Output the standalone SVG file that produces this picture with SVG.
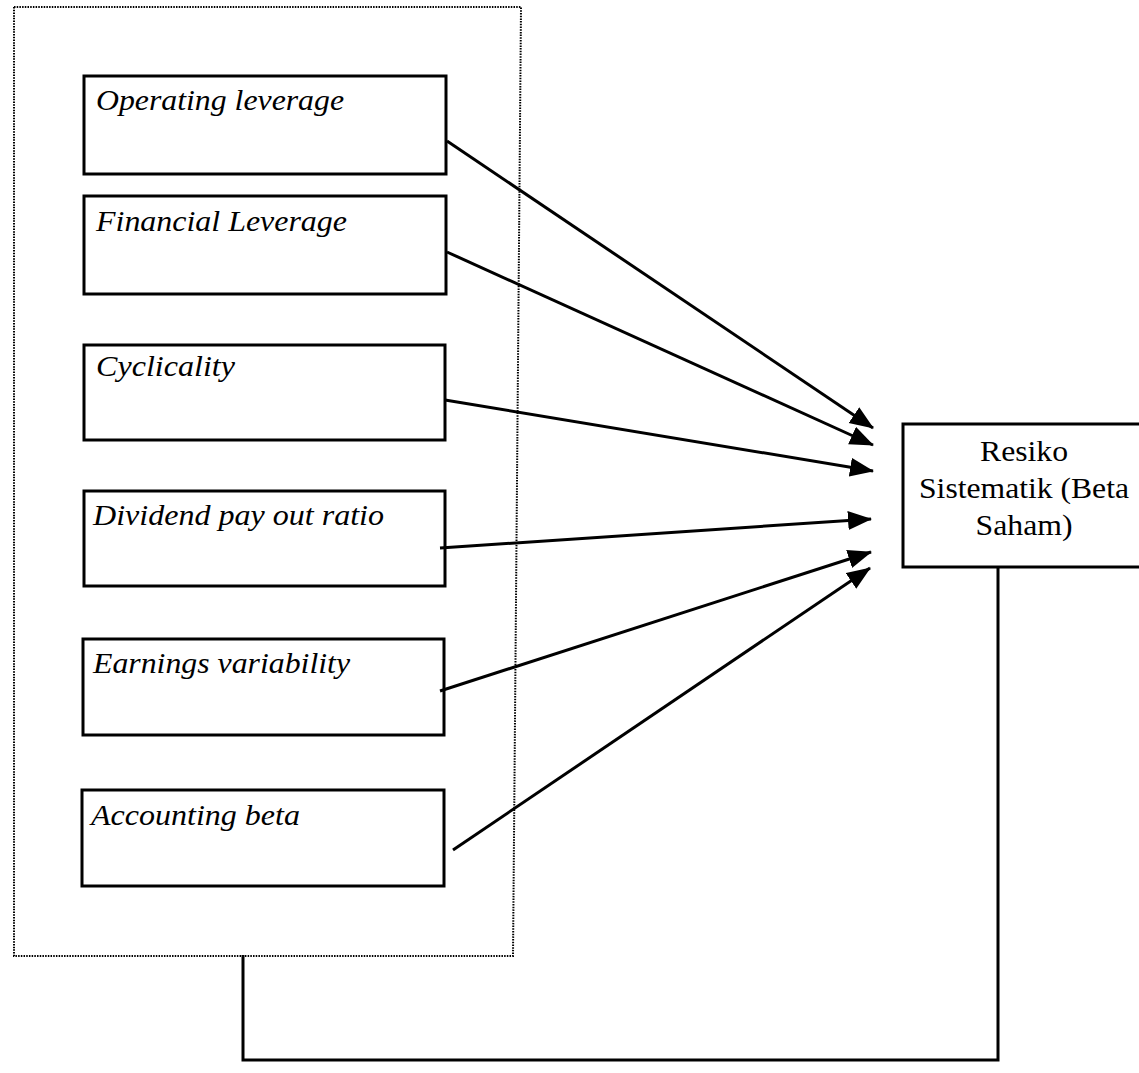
<svg xmlns="http://www.w3.org/2000/svg" width="1139" height="1073" viewBox="0 0 1139 1073">
<style>
.box{fill:#fff;stroke:#000;stroke-width:3}
.lbl{font-family:"Liberation Serif","Times New Roman",serif;font-style:italic;font-size:30px;fill:#000}
.rlbl{font-family:"Liberation Serif","Times New Roman",serif;font-size:30px;fill:#000;text-anchor:middle}
.arr{stroke:#000;stroke-width:3;fill:none;marker-end:url(#ah)}
.conn{stroke:#000;stroke-width:3;fill:none}
.dash{stroke:#000;stroke-width:2;fill:none;stroke-dasharray:1.5 1.2}
</style>
<defs>
<marker id="ah" markerUnits="userSpaceOnUse" markerWidth="26" markerHeight="20" refX="23" refY="9.5" orient="auto">
<path d="M0,0 L24,9.5 L0,19 Z" fill="#000"/>
</marker>
</defs>
<rect width="1139" height="1073" fill="#fff"/>
<g id="group-frame">
<path class="dash" d="M14,7 L521,7 L513,956 L14,956 Z"/>
</g>
<g id="node-operating">
<rect class="box" x="84" y="76" width="362" height="98"/>
<text class="lbl" x="96" y="110" textLength="248" lengthAdjust="spacingAndGlyphs">Operating leverage</text>
</g>
<g id="node-financial">
<rect class="box" x="84" y="196" width="362" height="98"/>
<text class="lbl" x="96" y="231" textLength="251" lengthAdjust="spacingAndGlyphs">Financial Leverage</text>
</g>
<g id="node-cyclicality">
<rect class="box" x="84" y="345" width="361" height="95"/>
<text class="lbl" x="96" y="376" textLength="139" lengthAdjust="spacingAndGlyphs">Cyclicality</text>
</g>
<g id="node-dividend">
<rect class="box" x="84" y="491" width="361" height="95"/>
<text class="lbl" x="93" y="525" textLength="291" lengthAdjust="spacingAndGlyphs">Dividend pay out ratio</text>
</g>
<g id="node-earnings">
<rect class="box" x="83" y="639" width="361" height="96"/>
<text class="lbl" x="93" y="673" textLength="257" lengthAdjust="spacingAndGlyphs">Earnings variability</text>
</g>
<g id="node-accounting">
<rect class="box" x="82" y="790" width="362" height="96"/>
<text class="lbl" x="91" y="825" textLength="209" lengthAdjust="spacingAndGlyphs">Accounting beta</text>
</g>
<g id="node-resiko">
<rect class="box" x="903" y="424" width="250" height="143"/>
<text class="rlbl" x="1024" y="461" textLength="88" lengthAdjust="spacingAndGlyphs">Resiko</text>
<text class="rlbl" x="1024" y="498" textLength="210" lengthAdjust="spacingAndGlyphs">Sistematik (Beta</text>
<text class="rlbl" x="1024" y="535" textLength="97" lengthAdjust="spacingAndGlyphs">Saham)</text>
</g>
<g id="connectors">
<line class="arr" x1="447" y1="141" x2="873" y2="428"/>
<line class="arr" x1="447" y1="252" x2="873" y2="445"/>
<line class="arr" x1="445" y1="400" x2="873" y2="471"/>
<line class="arr" x1="440" y1="548" x2="871" y2="519"/>
<line class="arr" x1="440" y1="691" x2="871" y2="552"/>
<line class="arr" x1="453" y1="850" x2="870" y2="568"/>
<path class="conn" d="M998,567 L998,1060 L243,1060 L243,955"/>
</g>
</svg>
